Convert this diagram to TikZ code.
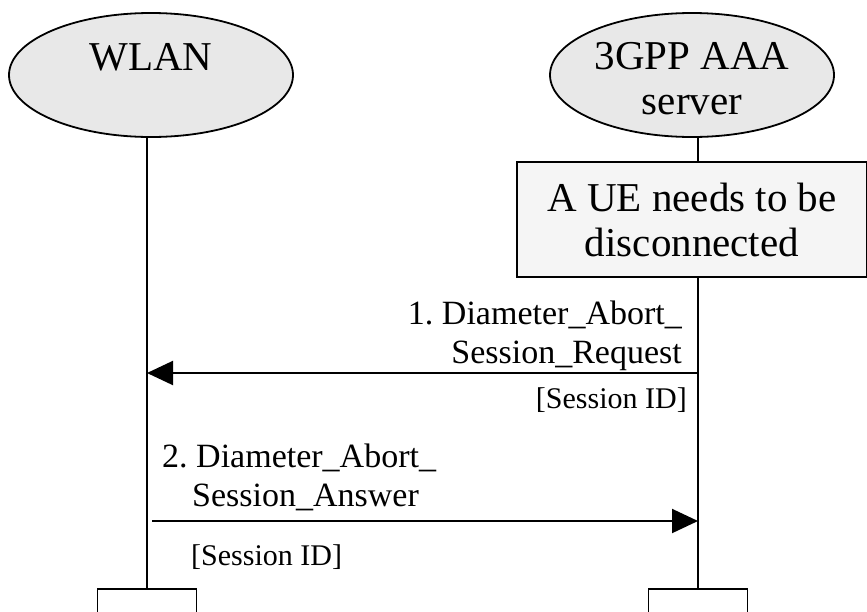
\documentclass[tikz,border=0pt]{standalone}
\usepackage{fontspec}
\setmainfont{Liberation Serif}
\usepackage{tikz}
\usetikzlibrary{shapes.geometric,arrows.meta,positioning}
\usepackage{xcolor}
\frenchspacing
\definecolor{actorgray}{RGB}{232,232,232}
\definecolor{notegray}{RGB}{245,245,245}
\newcommand{\bigfont}{\fontsize{41}{45}\selectfont}
\newcommand{\msgfont}{\fontsize{34}{39}\selectfont}
\newcommand{\parfont}{\fontsize{30}{33}\selectfont}
\tikzstyle{actor} = [ellipse, draw, fill=actorgray, line width=1.8pt, minimum width=284pt, minimum height=124pt]
\tikzstyle{notebox} = [rectangle, draw, fill=notegray, line width=1.8pt, minimum width=350pt, minimum height=115pt, align=center, font=\bigfont]
\tikzstyle{endbox} = [rectangle, draw, fill=white, line width=1.8pt, minimum width=99pt, minimum height=60pt, anchor=north]
\tikzstyle{lifeline} = [line width=2pt]
\tikzstyle{msgarrow} = [line width=2pt, -{Triangle[length=26pt,width=24pt]}]

\begin{document}
\begin{tikzpicture}[
    x=1pt, y=-1pt,
    every node/.style={inner sep=0pt}
]
\useasboundingbox (0,0) rectangle (867,611);

% Actors
\node[actor] (wlan) at (151,75) {};
\node[font=\bigfont] (wlanlbl) at (151,57.5) {WLAN};
\node[actor] (aaa) at (692,75) {};
\node[font=\bigfont, align=center] (aaalbl) at (692,78.5) {3GPP AAA\\server};

% Internal event
\node[notebox] (event) at (692,219.5) {A UE needs to be\\disconnected};

% Lifeline ends
\node[endbox] (wlanend) at (147,588) {};
\node[endbox] (aaaend) at (698,588) {};

% Lifelines
\draw[lifeline] (wlanend.north |- wlan.south) -- (wlanend.north);
\draw[lifeline] (aaaend.north |- aaa.south) -- (aaaend.north |- event.north);
\draw[lifeline] (aaaend.north |- event.south) -- (aaaend.north);

% Messages
\coordinate (req) at (0,373);
\coordinate (ans) at (152,521);
\draw[msgarrow] (aaaend.north |- req) -- (wlanend.north |- req);
\draw[msgarrow] (ans) -- (aaaend.north |- ans);

\node[font=\msgfont, align=right, anchor=south east] (reqlbl) at (682,371) {1. Diameter\_Abort\_\\Session\_Request};
\node[font=\parfont, anchor=base east] (reqpar) at (687,408) {[Session ID]};
\node[font=\msgfont, align=left, anchor=north west] (anslbl) at (162,444) {2. Diameter\_Abort\_\\\hspace*{30pt}Session\_Answer};
\node[font=\parfont, anchor=base west] (anspar) at (191,565) {[Session ID]};

\end{tikzpicture}
\end{document}
